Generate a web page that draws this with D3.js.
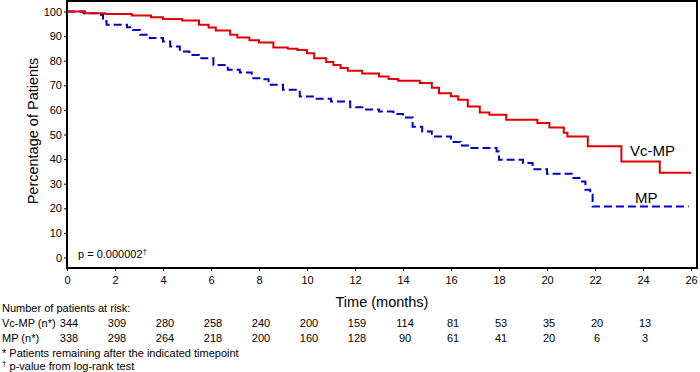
<!DOCTYPE html>
<html>
<head>
<meta charset="utf-8">
<script src="https://cdnjs.cloudflare.com/ajax/libs/d3/7.8.5/d3.min.js"></script>
<style>
  body { margin: 0; background: #fff; }
  svg { display: block; font-family: "Liberation Sans", Arial, sans-serif; }
</style>
</head>
<body>
<svg width="700" height="372"></svg>
<script>
// step points [month, percent]
var vcmp = [
  [0, 100], [0.75, 99.3], [1.6, 99], [2.7, 98.4], [3.5, 97.7], [4.0, 97],
  [4.8, 96.3], [5.5, 94.6], [5.9, 93.5], [6.2, 92.3], [6.8, 90.5], [7.1, 89.4],
  [7.6, 88.3], [8.0, 87.4], [8.6, 85.4], [9.2, 84.9], [9.6, 84.4], [10.0, 83],
  [10.3, 81], [10.8, 79.5], [11.1, 78.3], [11.4, 77], [11.7, 75.9], [12.3, 74.8],
  [13.0, 73.6], [13.4, 72.6], [13.8, 71.8], [14.7, 70.9], [15.2, 69],
  [15.5, 66.8], [16.0, 65.5], [16.3, 64.1], [16.7, 61.4], [17.2, 58.9],
  [17.6, 58], [18.3, 56], [19.6, 54.7], [20.1, 52.8], [20.7, 50.7],
  [20.85, 49.2], [21.7, 45.2], [23.1, 39], [24.7, 34.5], [26.0, 34.5]
];
var mp = [
  [0, 100], [0.7, 99.3], [1.35, 98.7], [1.5, 96], [1.65, 94.6], [2.5, 93.6],
  [2.75, 92.5], [3.05, 90.5], [3.45, 89.2], [4.0, 87.8], [4.3, 85.8],
  [4.7, 83.7], [5.1, 82.3], [5.5, 81], [6.1, 78.3], [6.7, 76.3], [7.2, 75.2],
  [7.7, 72.9], [8.1, 72.5], [8.4, 70.2], [9.0, 68.2], [9.7, 65.4],
  [10.3, 64.5], [11.0, 63.4], [11.8, 61.1], [12.4, 60.2], [13.0, 59.3],
  [13.6, 58.3], [14.0, 56.9], [14.4, 53.2], [14.8, 51.2], [15.2, 49.2],
  [16.0, 47], [16.4, 45.5], [16.8, 44.5], [17.9, 43.1], [18.0, 39.7],
  [19.0, 38.4], [19.4, 35.9], [20.0, 34], [21.1, 32.3], [21.4, 30.9],
  [21.6, 27.5], [21.8, 25.5], [21.9, 20.7], [25.9, 20.7]
];

var xTicks = [0, 2, 4, 6, 8, 10, 12, 14, 16, 18, 20, 22, 24, 26];
var yTicks = [0, 10, 20, 30, 40, 50, 60, 70, 80, 90, 100];
var riskTimes = [0, 2, 4, 6, 8, 10, 12, 14, 16, 18, 20, 22, 24];
var riskVcmp = [344, 309, 280, 258, 240, 200, 159, 114, 81, 53, 35, 20, 13];
var riskMp = [338, 298, 264, 218, 200, 160, 128, 90, 61, 41, 20, 6, 3];

var svg = d3.select("svg");

var x = d3.scaleLinear().domain([0, 26]).range([67, 691]);
var y = d3.scaleLinear().domain([0, 100]).range([257.5, 11.5]);

var boxLeft = 67, boxRight = 697, boxTop = 1, boxBottom = 268;

// frame
svg.append("rect")
    .attr("x", boxLeft).attr("y", boxTop)
    .attr("width", boxRight - boxLeft).attr("height", boxBottom - boxTop)
    .attr("fill", "none")
    .attr("stroke", "#000")
    .attr("stroke-width", 2);

// axes (ticks outside the frame)
var yAxis = svg.append("g")
    .attr("transform", "translate(" + boxLeft + ",0)")
    .call(d3.axisLeft(y).tickValues(yTicks).tickSize(3).tickPadding(2));
var xAxis = svg.append("g")
    .attr("transform", "translate(0," + boxBottom + ")")
    .call(d3.axisBottom(x).tickValues(xTicks).tickSize(3).tickPadding(5));

[yAxis, xAxis].forEach(function(g) {
    g.select(".domain").remove();
    g.selectAll("text")
        .attr("fill", "#000")
        .style("font-size", "11px")
        .style("font-family", "Liberation Sans, Arial, sans-serif");
});

// curves
var line = d3.line()
    .x(function(d) { return x(d[0]); })
    .y(function(d) { return y(d[1]); })
    .curve(d3.curveStepAfter);

svg.append("path")
    .datum(mp)
    .attr("d", line)
    .attr("fill", "none")
    .attr("stroke", "#0000cc")
    .attr("stroke-width", 2)
    .attr("stroke-dasharray", "8,4");

svg.append("path")
    .datum(vcmp)
    .attr("d", line)
    .attr("fill", "none")
    .attr("stroke", "#e00000")
    .attr("stroke-width", 2);

// series labels
svg.append("text")
    .attr("x", 630).attr("y", 156)
    .style("font-size", "15px")
    .text("Vc-MP");
svg.append("text")
    .attr("x", 635).attr("y", 203)
    .style("font-size", "15px")
    .text("MP");

var pText = svg.append("text")
    .attr("x", 78).attr("y", 258)
    .style("font-size", "11px");
pText.append("tspan").text("p = 0.000002");
pText.append("tspan").attr("dy", -4).style("font-size", "8px").text("†");

// axis titles
svg.append("text")
    .attr("transform", "translate(38,131) rotate(-90)")
    .attr("text-anchor", "middle")
    .style("font-size", "14.5px")
    .text("Percentage of Patients");

svg.append("text")
    .attr("x", 382).attr("y", 307)
    .attr("text-anchor", "middle")
    .style("font-size", "14.5px")
    .text("Time (months)");

// at-risk table
svg.append("text")
    .attr("x", 2).attr("y", 312)
    .style("font-size", "11px")
    .text("Number of patients at risk:");

var rows = [
    { label: "Vc-MP (n*)", values: riskVcmp, y: 327 },
    { label: "MP (n*)", values: riskMp, y: 342 }
];

rows.forEach(function(r) {
    svg.append("text")
        .attr("x", 2).attr("y", r.y)
        .style("font-size", "11px")
        .text(r.label);
    svg.selectAll(null)
        .data(r.values)
        .enter().append("text")
        .attr("x", function(d, i) { return x(riskTimes[i]) + 2; })
        .attr("y", r.y)
        .attr("text-anchor", "middle")
        .style("font-size", "11px")
        .text(function(d) { return d; });
});

svg.append("text")
    .attr("x", 2).attr("y", 357)
    .style("font-size", "11px")
    .text("*  Patients remaining after the indicated timepoint");
var foot = svg.append("text")
    .attr("x", 2).attr("y", 370)
    .style("font-size", "11px");
foot.append("tspan").attr("dy", -4).style("font-size", "8px").text("†");
foot.append("tspan").attr("dy", 4).text("  p-value from log-rank test");
</script>
</body>
</html>
